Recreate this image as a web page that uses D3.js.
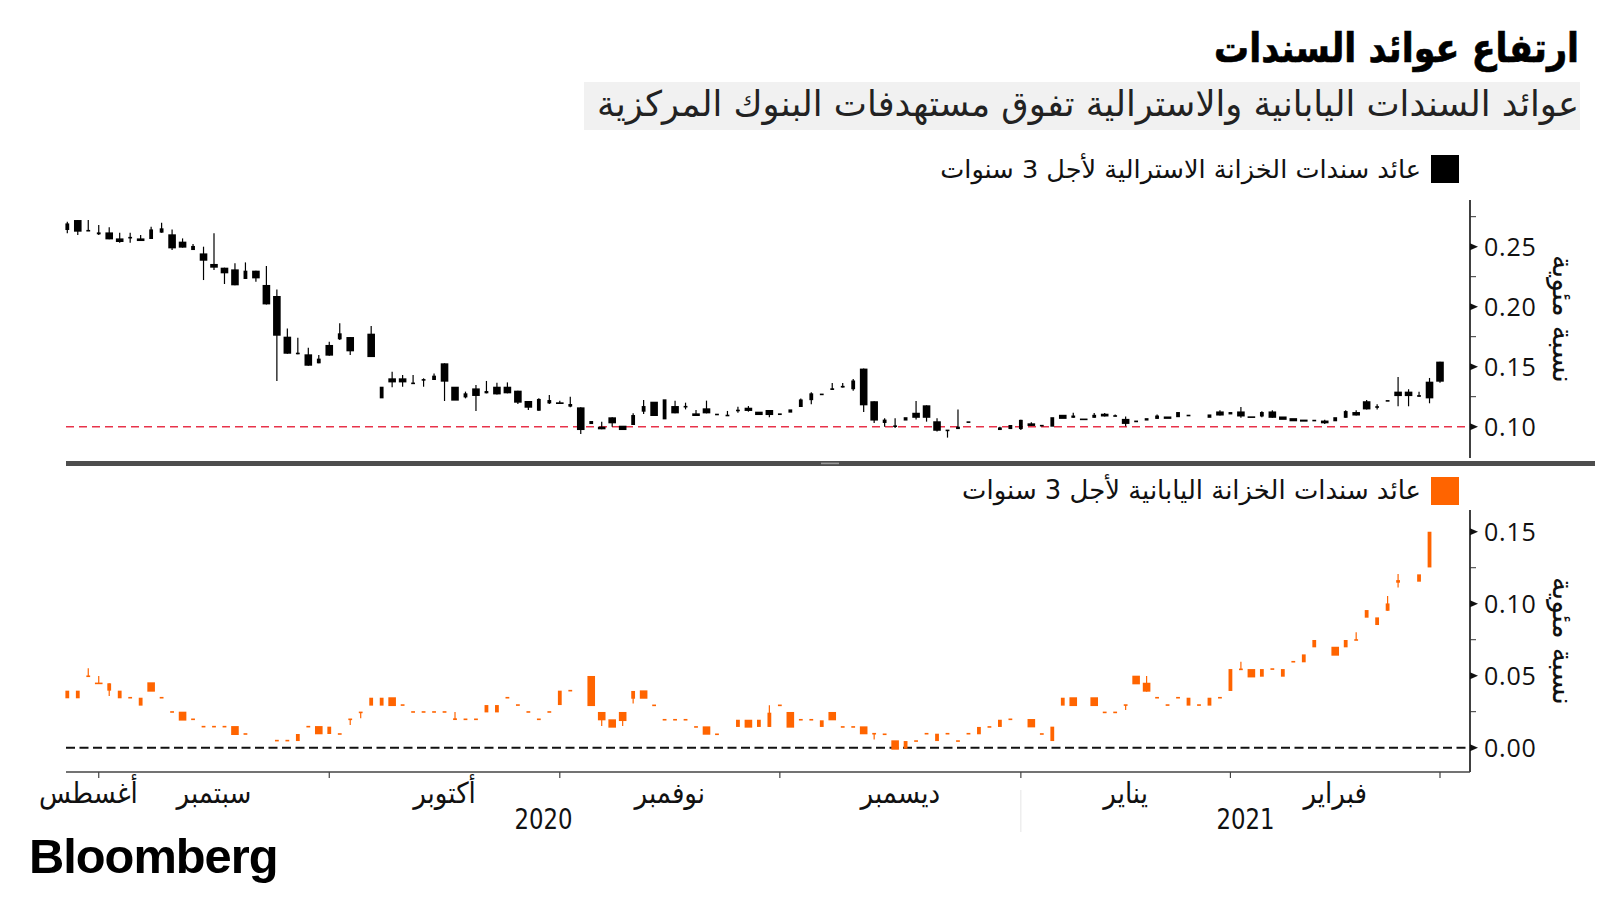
<!DOCTYPE html>
<html><head><meta charset="utf-8">
<script src="https://cdn.jsdelivr.net/npm/d3@7"></script>
<style>body{margin:0;background:#fff}svg{display:block}</style>
</head><body><svg id="c" width="1600" height="900"></svg>
<script>
const titleText = "ارتفاع عوائد السندات";
const subtitleText = "عوائد السندات اليابانية والاسترالية تفوق مستهدفات البنوك المركزية";
const audLabel = "عائد سندات الخزانة الاسترالية لأجل 3 سنوات";
const jgbLabel = "عائد سندات الخزانة اليابانية لأجل 3 سنوات";
const yAxisTitle = "نسبة مئوية";
const sourceText = "Bloomberg";

const monthNames = ["أغسطس","سبتمبر","أكتوبر","نوفمبر","ديسمبر","يناير","فبراير"];
const monthStart = [-5, 3, 25, 47, 68, 91, 111];
const monthEnd   = [3, 25, 47, 68, 91, 111, 131];
const monthTicks = [3, 25, 47, 68, 91, 111, 131];
const yearNames = ["2020", "2021"];
const yearBreak = 91;

const audTicks = [0.10, 0.15, 0.20, 0.25];
const audMinor = [0.125, 0.175, 0.225, 0.275];
const jgbTicks = [0.00, 0.05, 0.10, 0.15];
const jgbMinor = [0.025, 0.075, 0.125];
const audTarget = 0.10;
const jgbTarget = 0.00;

// [open, high, low, close] per trading-day slot; a single number = open=high=low=close; null = no quote
const aud = [
[0.2639,0.2708,0.2611,0.2694],[0.2722,0.2722,0.2597,0.2625],[0.2633,0.2722,0.2633,0.2633],[0.2603,0.2681,0.2597,0.2619],
[0.2619,0.2661,0.2561,0.2561],[0.2569,0.2617,0.2533,0.2539],[0.2575,0.2617,0.2533,0.2575],[0.2569,0.2597,0.2547,0.2547],
[0.2564,0.2667,0.2564,0.2644],[0.2617,0.2700,0.2617,0.2653],[0.2603,0.2644,0.2472,0.2486],[0.2542,0.2569,0.2492,0.2492],
[0.2472,0.2522,0.2472,0.2506],[0.2444,0.2500,0.2222,0.2383],[0.2356,0.2611,0.2306,0.2325],[0.2325,0.2325,0.2189,0.2278],
[0.2311,0.2361,0.2178,0.2178],[0.2231,0.2369,0.2231,0.2300],[0.2300,0.2300,0.2208,0.2236],[0.2181,0.2339,0.2019,0.2019],
[0.2089,0.2144,0.1381,0.1758],[0.1750,0.1819,0.1608,0.1608],[0.1610,0.1742,0.1603,0.1610],[0.1603,0.1658,0.1508,0.1508],
[0.1528,0.1597,0.1528,0.1567],[0.1681,0.1708,0.1592,0.1592],[0.1728,0.1861,0.1722,0.1778],[0.1747,0.1747,0.1597,0.1628],
null,[0.1775,0.1839,0.1580,0.1580],[0.1236,0.1333,0.1236,0.1333],[0.1403,0.1458,0.1328,0.1369],
[0.1403,0.1431,0.1333,0.1369],[0.1361,0.1431,0.1361,0.1361],[0.1390,0.1403,0.1333,0.1390],[0.1389,0.1444,0.1389,0.1425],
[0.1528,0.1528,0.1214,0.1375],[0.1333,0.1333,0.1217,0.1217],[0.1244,0.1292,0.1236,0.1278],[0.1319,0.1347,0.1131,0.1256],
[0.1278,0.1381,0.1278,0.1297],[0.1333,0.1367,0.1269,0.1269],[0.1333,0.1369,0.1278,0.1278],[0.1300,0.1300,0.1189,0.1200],
[0.1214,0.1214,0.1139,0.1158],[0.1133,0.1236,0.1133,0.1231],[0.1194,0.1264,0.1189,0.1222],[0.1203,0.1217,0.1189,0.1189],
[0.1167,0.1250,0.1161,0.1189],[0.1161,0.1161,0.0939,0.0972],[0.1022,0.1047,0.1022,0.1047],[0.1000,0.1042,0.0978,0.0978],
[0.1078,0.1078,0.1000,0.1028],[0.1008,0.1008,0.0972,0.0972],[0.1014,0.1111,0.1014,0.1097],[0.1125,0.1222,0.1106,0.1172],
[0.1208,0.1208,0.1089,0.1089],[0.1061,0.1228,0.1061,0.1228],[0.1172,0.1217,0.1111,0.1111],[0.1161,0.1200,0.1144,0.1172],
[0.1111,0.1139,0.1089,0.1089],[0.1153,0.1217,0.1111,0.1111],[0.1097,0.1106,0.1097,0.1106],[0.1089,0.1131,0.1089,0.1097],
[0.1131,0.1167,0.1117,0.1139],[0.1158,0.1172,0.1125,0.1131],[0.1125,0.1125,0.1097,0.1097],[0.1139,0.1139,0.1078,0.1097],
[0.1097,0.1111,0.1097,0.1111],[0.1117,0.1144,0.1117,0.1144],[0.1164,0.1235,0.1164,0.1227],[0.1221,0.1286,0.1187,0.1278],
0.1269,[0.1306,0.1363,0.1306,0.1320],[0.1326,0.1363,0.1326,0.1340],[0.1312,0.1397,0.1300,0.1385],
[0.1484,0.1484,0.1122,0.1178],[0.1212,0.1212,0.1031,0.1051],[0.1031,0.1071,0.1000,0.1059],[0.1000,0.1071,0.0989,0.1008],
[0.1051,0.1079,0.1051,0.1079],[0.1116,0.1215,0.1059,0.1074],[0.1178,0.1178,0.1042,0.1074],[0.1045,0.1071,0.0960,0.0966],
[0.0966,0.0972,0.0909,0.0972],[0.0980,0.1144,0.0980,0.1000],[0.1034,0.1042,0.1034,0.1042],null,
null,[0.0972,0.1000,0.0972,0.0994],[0.0980,0.1014,0.0980,0.1014],[0.0980,0.1057,0.0972,0.1057],
[0.1028,0.1037,0.1006,0.1006],[0.1006,0.1011,0.1006,0.1011],[0.1000,0.1079,0.1000,0.1079],[0.1099,0.1099,0.1065,0.1065],
[0.1074,0.1116,0.1074,0.1093],[0.1065,0.1065,0.1057,0.1057],[0.1074,0.1113,0.1074,0.1099],[0.1108,0.1113,0.1085,0.1085],
[0.1085,0.1102,0.1085,0.1093],[0.1065,0.1085,0.1003,0.1023],[0.1037,0.1051,0.1037,0.1051],[0.1051,0.1071,0.1051,0.1071],
[0.1065,0.1102,0.1065,0.1093],[0.1085,0.1085,0.1065,0.1065],[0.1079,0.1122,0.1079,0.1122],0.1093,
null,[0.1074,0.1102,0.1074,0.1102],[0.1127,0.1136,0.1093,0.1093],[0.1102,0.1122,0.1102,0.1122],
[0.1127,0.1164,0.1074,0.1085],[0.1085,0.1085,0.1074,0.1074],[0.1085,0.1128,0.1078,0.1122],[0.1127,0.1136,0.1074,0.1074],
[0.1085,0.1085,0.1057,0.1057],[0.1071,0.1071,0.1045,0.1045],[0.1059,0.1059,0.1042,0.1042],0.1051,
[0.1051,0.1057,0.1023,0.1028],[0.1045,0.1079,0.1045,0.1079],[0.1074,0.1136,0.1074,0.1130],[0.1122,0.1136,0.1093,0.1093],
[0.1212,0.1222,0.1144,0.1144],[0.1164,0.1187,0.1144,0.1164],0.1215,[0.1292,0.1414,0.1170,0.1255],
[0.1292,0.1312,0.1170,0.1255],[0.1249,0.1292,0.1249,0.1263],[0.1375,0.1406,0.1195,0.1236],[0.1542,0.1542,0.1367,0.1375]
];

const jgb = [
[0.0343,0.0396,0.0343,0.0396],[0.0343,0.0396,0.0343,0.0396],[0.0496,0.0551,0.0496,0.0496],[0.0451,0.0498,0.0442,0.0442],
[0.0396,0.0447,0.0359,0.0447],[0.0343,0.0396,0.0343,0.0396],0.0347,[0.0292,0.0347,0.0292,0.0347],
[0.0454,0.0454,0.0389,0.0389],0.0347,0.0248,[0.0250,0.0250,0.0188,0.0188],
0.0197,0.0146,0.0146,0.0146,
[0.0150,0.0150,0.0088,0.0088],0.0095,null,null,
0.0049,0.0049,[0.0046,0.0095,0.0046,0.0095],0.0146,
[0.0150,0.0150,0.0093,0.0093],[0.0095,0.0146,0.0095,0.0146],0.0095,[0.0197,0.0197,0.0157,0.0197],
[0.0245,0.0245,0.0204,0.0245],[0.0292,0.0347,0.0292,0.0347],[0.0292,0.0347,0.0292,0.0347],[0.0350,0.0350,0.0289,0.0289],
0.0296,0.0248,0.0248,0.0248,
0.0248,[0.0192,0.0248,0.0192,0.0204],0.0197,0.0197,
[0.0245,0.0296,0.0245,0.0296],[0.0245,0.0296,0.0245,0.0296],0.0347,0.0296,
0.0248,0.0197,0.0248,[0.0296,0.0396,0.0296,0.0396],
0.0396,null,[0.0498,0.0498,0.0289,0.0289],[0.0248,0.0248,0.0150,0.0190],
[0.0197,0.0197,0.0139,0.0139],[0.0248,0.0248,0.0150,0.0185],[0.0340,0.0394,0.0306,0.0394],[0.0398,0.0398,0.0340,0.0340],
0.0294,0.0194,0.0194,0.0194,
0.0144,[0.0148,0.0148,0.0090,0.0090],0.0093,null,
[0.0144,0.0194,0.0144,0.0194],[0.0194,0.0194,0.0139,0.0139],[0.0144,0.0194,0.0144,0.0194],[0.0144,0.0294,0.0144,0.0243],
0.0294,[0.0248,0.0248,0.0139,0.0139],0.0194,0.0194,
[0.0144,0.0190,0.0144,0.0190],[0.0248,0.0248,0.0190,0.0190],0.0144,0.0144,
[0.0148,0.0148,0.0093,0.0093],[0.0097,0.0097,0.0056,0.0097],0.0093,[0.0051,0.0051,-0.0014,-0.0014],
[-0.0007,0.0046,-0.0007,0.0046],0.0046,0.0097,[0.0046,0.0097,0.0046,0.0097],
0.0097,0.0046,0.0097,[0.0093,0.0144,0.0093,0.0144],
0.0144,[0.0144,0.0194,0.0144,0.0194],0.0197,null,
[0.0199,0.0199,0.0141,0.0141],0.0095,[0.0046,0.0146,0.0046,0.0146],[0.0292,0.0347,0.0292,0.0347],
[0.0350,0.0350,0.0289,0.0289],null,[0.0350,0.0350,0.0289,0.0289],0.0245,
0.0245,[0.0296,0.0296,0.0262,0.0296],[0.0500,0.0500,0.0440,0.0440],[0.0451,0.0498,0.0389,0.0389],
0.0347,0.0296,0.0347,[0.0292,0.0347,0.0292,0.0347],
0.0296,[0.0292,0.0347,0.0292,0.0347],0.0347,[0.0394,0.0546,0.0394,0.0546],
[0.0544,0.0597,0.0544,0.0544],[0.0546,0.0546,0.0488,0.0488],[0.0493,0.0546,0.0493,0.0546],0.0546,
[0.0493,0.0546,0.0493,0.0546],0.0597,[0.0593,0.0648,0.0593,0.0648],[0.0697,0.0748,0.0697,0.0748],
null,[0.0701,0.0701,0.0639,0.0639],[0.0697,0.0748,0.0697,0.0748],[0.0748,0.0801,0.0748,0.0748],
[0.0903,0.0956,0.0903,0.0956],[0.0852,0.0905,0.0852,0.0905],[0.0951,0.1053,0.0951,0.1002],[0.1146,0.1206,0.1113,0.1164],
null,[0.1153,0.1204,0.1153,0.1204],[0.1252,0.1500,0.1252,0.1500],null
];

// ---------------- drawing ----------------
const svg = d3.select("#c");
const AR = "'DejaVu Sans', 'Noto Sans', sans-serif";
const ARC = "'DejaVu Sans Condensed', 'DejaVu Sans', sans-serif";
const LEFT = 66, AXX = 1470;

function fit(sel, w) {
  const n = sel.node(); const cur = n.getComputedTextLength();
  const fs = parseFloat(sel.attr("font-size"));
  if (cur > 0) sel.attr("font-size", (fs * w / cur).toFixed(2));
  return sel;
}

const x = d3.scaleLinear().domain([0, 131]).range([67.3, 1440]);
const yA = d3.scaleLinear().domain([0.0739, 0.2889]).range([458, 200]);
const yJ = d3.scaleLinear().domain([-0.0169, 0.1651]).range([772, 510]);

// title & subtitle
svg.append("rect").attr("x", 584).attr("y", 82).attr("width", 996).attr("height", 48).attr("fill", "#f1f1f1");
const tt = fit(svg.append("text").attr("x", 0).attr("y", 0).attr("text-anchor", "end")
  .attr("font-family", AR).attr("font-weight", "bold").attr("font-size", 36).attr("fill", "#000")
  .attr("stroke", "#000").attr("stroke-width", 0.6).text(titleText), 365);
tt.attr("transform", "translate(1579,62) scale(1,1.15)");
fit(svg.append("text").attr("x", 1579).attr("y", 116).attr("text-anchor", "end")
  .attr("font-family", AR).attr("font-size", 28).attr("fill", "#222").text(subtitleText), 982);

// legends
svg.append("rect").attr("x", 1431).attr("y", 155).attr("width", 28).attr("height", 28).attr("fill", "#000");
fit(svg.append("text").attr("x", 1421).attr("y", 178).attr("text-anchor", "end")
  .attr("font-family", AR).attr("font-size", 23).attr("fill", "#111").text(audLabel), 481);
svg.append("rect").attr("x", 1431).attr("y", 477).attr("width", 28).attr("height", 28).attr("fill", "#ff6400");
fit(svg.append("text").attr("x", 1421).attr("y", 499).attr("text-anchor", "end")
  .attr("font-family", AR).attr("font-size", 23).attr("fill", "#111").text(jgbLabel), 459);

// y axes
function yAxis(y, majors, minors, top, bottom, titleY) {
  const g = svg.append("g");
  g.append("line").attr("x1", AXX).attr("x2", AXX).attr("y1", top).attr("y2", bottom)
    .attr("stroke", "#111").attr("stroke-width", 1.6);
  minors.forEach(v => g.append("line").attr("x1", AXX).attr("x2", AXX + 6)
    .attr("y1", y(v)).attr("y2", y(v)).attr("stroke", "#333").attr("stroke-width", 1));
  majors.forEach(v => {
    const yy = y(v);
    g.append("path").attr("d", `M${AXX},${yy - 3.5}L${AXX + 8},${yy}L${AXX},${yy + 3.5}Z`).attr("fill", "#111");
    g.append("text").attr("x", 1484).attr("y", yy).attr("dy", "0.36em")
      .attr("font-family", "'Open Sans', 'DejaVu Sans', sans-serif").attr("font-size", 25)
      .attr("letter-spacing", "0.8px").attr("fill", "#111").text(d3.format(".2f")(v));
  });
  const t = g.append("text").attr("transform", `translate(1553,${titleY}) rotate(90)`)
    .attr("text-anchor", "middle").attr("font-family", AR).attr("font-size", 22).attr("fill", "#111").text(yAxisTitle);
  fit(t, 128);
}
yAxis(yA, audTicks, audMinor, 200, 458, 319);
yAxis(yJ, jgbTicks, jgbMinor, 510, 772, 641);

// target lines
svg.append("line").attr("x1", LEFT).attr("x2", AXX).attr("y1", yA(audTarget)).attr("y2", yA(audTarget))
  .attr("stroke", "#e8334a").attr("stroke-width", 1.5).attr("stroke-dasharray", "8,5");
svg.append("line").attr("x1", LEFT).attr("x2", AXX).attr("y1", yJ(jgbTarget)).attr("y2", yJ(jgbTarget))
  .attr("stroke", "#111").attr("stroke-width", 2).attr("stroke-dasharray", "9,4.5");

// candles
function candles(data, y, fill) {
  const g = svg.append("g");
  data.forEach((r, i) => {
    if (r === null) return;
    const d = typeof r === "number" ? [r, r, r, r] : r;
    const [o, h, l, c] = d;
    const up = c >= o;
    const w = up ? 3.8 : 7.6;
    const cx = x(i);
    if (h > Math.max(o, c) || l < Math.min(o, c))
      g.append("line").attr("x1", cx).attr("x2", cx).attr("y1", y(h)).attr("y2", y(l))
        .attr("stroke", fill).attr("stroke-width", 1.2);
    const yt = y(Math.max(o, c)), yb = y(Math.min(o, c));
    const hh = Math.max(1.6, yb - yt);
    g.append("rect").attr("x", cx - w / 2).attr("y", (yt + yb) / 2 - hh / 2)
      .attr("width", w).attr("height", hh).attr("fill", fill);
  });
}
candles(aud, yA, "#000");
candles(jgb, yJ, "#ff6400");

// separator bar
svg.append("rect").attr("x", LEFT).attr("y", 461).attr("width", 1595 - LEFT).attr("height", 5).attr("fill", "#4d4d4d");
svg.append("rect").attr("x", 821).attr("y", 462.6).attr("width", 18).attr("height", 1.6).attr("fill", "#9a9a9a");

// x axis
const xa = svg.append("g");
xa.append("line").attr("x1", LEFT).attr("x2", AXX).attr("y1", 772).attr("y2", 772)
  .attr("stroke", "#444").attr("stroke-width", 1.3);
monthTicks.forEach(t => xa.append("line").attr("x1", x(t)).attr("x2", x(t)).attr("y1", 772).attr("y2", 778)
  .attr("stroke", "#444").attr("stroke-width", 1.2));
monthNames.forEach((m, k) => {
  const t = xa.append("text").attr("y", 803).attr("text-anchor", "middle")
    .attr("font-family", ARC).attr("font-size", 29).attr("fill", "#111").text(m);
  const w = t.node().getComputedTextLength();
  const mid = Math.max(x((monthStart[k] + monthEnd[k]) / 2), 39 + w / 2);
  t.attr("x", mid);
});
// year separator
xa.append("line").attr("x1", x(yearBreak)).attr("x2", x(yearBreak)).attr("y1", 790).attr("y2", 832)
  .attr("stroke", "#e6e6e6").attr("stroke-width", 1);
const yearCenters = [(LEFT + x(yearBreak)) / 2, (x(yearBreak) + AXX) / 2];
yearNames.forEach((yN, k) => {
  xa.append("text").attr("x", yearCenters[k]).attr("y", 829).attr("text-anchor", "middle")
    .attr("font-family", ARC).attr("font-size", 28).attr("fill", "#111")
    .attr("textLength", 58).attr("lengthAdjust", "spacingAndGlyphs").text(yN);
});

// source
fit(svg.append("text").attr("x", 29).attr("y", 873).attr("font-family", "'Liberation Sans', Arial, sans-serif")
  .attr("font-weight", "bold").attr("font-size", 46).attr("letter-spacing", "-1px").attr("fill", "#000").text(sourceText), 248);
</script></body></html>
